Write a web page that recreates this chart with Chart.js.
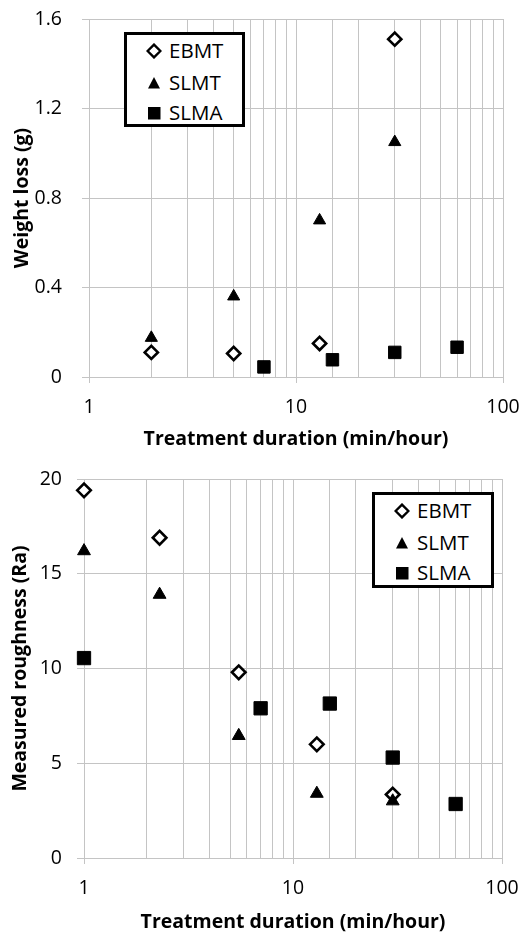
<!DOCTYPE html>
<html>
<head>
<meta charset="utf-8">
<script src="https://cdn.jsdelivr.net/npm/chart.js@4.4.1/dist/chart.umd.min.js"></script>
<style>
  body { margin: 0; background: #fff; font-family: "Open Sans", sans-serif; }
  #page { position: relative; width: 523px; height: 935px; overflow: hidden; }
  .wrap { position: absolute; left: 0; width: 523px; }
  .legend { position: absolute; border: 3px solid #000; background: #fff; box-sizing: border-box; }
  .legend .row { position: absolute; left: 0; width: 100%; height: 30px; }
  .legend svg { position: absolute; left: 19px; top: 8px; }
  .legend span { position: absolute; left: 42px; top: 0; line-height: 30px; font-size: 20.5px; color: #000; }
</style>
</head>
<body>
<div id="page">
  <div class="wrap" style="top:0;height:460px"><canvas id="weightChart" width="523" height="460"></canvas></div>
  <div class="wrap" style="top:460px;height:475px"><canvas id="roughChart" width="523" height="475"></canvas></div>
  <div class="legend" id="legendTop" style="left:124px;top:32px;width:121px;height:95px"></div>
  <div class="legend" id="legendBottom" style="left:372px;top:492px;width:122px;height:96px"></div>
</div>
<script>
// Series names
const seriesNames = ['EBMT', 'SLMT', 'SLMA'];

// Weight loss (g) vs treatment duration
const wlEbmtX = [2, 5, 13, 30];
const wlEbmtY = [0.11, 0.105, 0.15, 1.51];
const wlSlmtX = [2, 5, 13, 30];
const wlSlmtY = [0.175, 0.36, 0.70, 1.05];
const wlSlmaX = [7, 15, 30, 60];
const wlSlmaY = [0.045, 0.077, 0.11, 0.133];

// Measured roughness (Ra) vs treatment duration
const raEbmtX = [1, 2.3, 5.5, 13, 30];
const raEbmtY = [19.4, 16.9, 9.8, 6.0, 3.35];
const raSlmtX = [1, 2.3, 5.5, 13, 30];
const raSlmtY = [16.2, 13.9, 6.45, 3.4, 3.0];
const raSlmaX = [1, 7, 15, 30, 60];
const raSlmaY = [10.55, 7.9, 8.15, 5.3, 2.85];

// Axis ranges / ticks
const xMin = 1, xMax = 100;
const xTickLabels = [1, 10, 100];
const wlYMin = 0, wlYMax = 1.6, wlYStep = 0.4;
const raYMin = 0, raYMax = 20, raYStep = 5;

const xTitle = 'Treatment duration (min/hour)';
const wlTitle = 'Weight loss (g)';
const raTitle = 'Measured roughness (Ra)';

const gridColor = '#c4c4c4';
const FONT = '"Open Sans", sans-serif';

function pts(xs, ys) {
  return xs.map((x, i) => ({ x: x, y: ys[i] }));
}

function makeDatasets(ex, ey, tx, ty, sx, sy, big) {
  return [
    { label: seriesNames[0], data: pts(ex, ey), order: 1, clip: false,
      pointStyle: 'rectRot', pointRadius: big ? 6.8 : 6.6,
      backgroundColor: '#fff', borderColor: '#000', borderWidth: 2.6 },
    { label: seriesNames[1], data: pts(tx, ty), order: 0, clip: false,
      pointStyle: 'triangle', pointRadius: big ? 7.4 : 7,
      backgroundColor: '#000', borderColor: '#000', borderWidth: 1 },
    { label: seriesNames[2], data: pts(sx, sy), order: 2, clip: false,
      pointStyle: 'rect', pointRadius: big ? 9.4 : 8.8,
      backgroundColor: '#000', borderColor: '#000', borderWidth: 1 }
  ];
}

function makeOptions(cfg) {
  return {
    responsive: false,
    animation: false,
    events: [],
    layout: { padding: { top: cfg.top, right: cfg.right, left: 0, bottom: 0 } },
    plugins: { legend: { display: false }, tooltip: { enabled: false } },
    scales: {
      x: {
        type: 'logarithmic',
        min: xMin, max: xMax,
        border: { color: gridColor },
        grid: {
          color: gridColor, lineWidth: 1, tickLength: 6,
          tickColor: ctx => xTickLabels.includes(ctx.tick && ctx.tick.value) ? gridColor : 'rgba(0,0,0,0)'
        },
        ticks: {
          autoSkip: false, maxRotation: 0, padding: 13, color: '#000',
          font: { family: FONT, size: 19.5 },
          callback: v => xTickLabels.includes(v) ? String(v) : ''
        },
        title: {
          display: true, text: xTitle, color: '#000',
          font: { family: FONT, size: 19.5, weight: 'bold' },
          padding: { top: 0, bottom: cfg.xTitlePad }
        },
        afterFit: s => { s.height = cfg.xHeight; s.paddingLeft = 0; s.paddingRight = 0; }
      },
      y: {
        min: cfg.yMin, max: cfg.yMax,
        border: { display: false },
        grid: { color: gridColor, lineWidth: 1, tickLength: 7 },
        ticks: {
          stepSize: cfg.yStep, padding: cfg.yTickPad, color: '#000',
          font: { family: FONT, size: 19.5 }
        },
        title: {
          display: true, text: cfg.yTitle, color: '#000',
          font: { family: FONT, size: 19.5, weight: 'bold' },
          padding: { top: cfg.yTitlePad, bottom: 0 }
        },
        afterFit: s => { s.width = cfg.yWidth; s.paddingTop = 0; s.paddingBottom = 0; }
      }
    }
  };
}

new Chart(document.getElementById('weightChart'), {
  type: 'scatter',
  data: { datasets: makeDatasets(wlEbmtX, wlEbmtY, wlSlmtX, wlSlmtY, wlSlmaX, wlSlmaY, false) },
  options: makeOptions({
    top: 19, right: 20, xHeight: 83, yWidth: 89,
    yMin: wlYMin, yMax: wlYMax, yStep: wlYStep,
    yTitle: wlTitle, yTickPad: 20, yTitlePad: 11, xTitlePad: 9
  })
});

new Chart(document.getElementById('roughChart'), {
  type: 'scatter',
  data: { datasets: makeDatasets(raEbmtX, raEbmtY, raSlmtX, raSlmtY, raSlmaX, raSlmaY, true) },
  options: makeOptions({
    top: 19, right: 21, xHeight: 77, yWidth: 84,
    yMin: raYMin, yMax: raYMax, yStep: raYStep,
    yTitle: raTitle, yTickPad: 15, yTitlePad: 9, xTitlePad: 1
  })
});

// Boxed legends, Excel style
const markerSvg = {
  EBMT: '<svg width="16" height="16"><path d="M8 1.6 L14.4 8 L8 14.4 L1.6 8 Z" fill="#fff" stroke="#000" stroke-width="2.4"/></svg>',
  SLMT: '<svg width="16" height="16"><path d="M8 2 L14 13.5 L2 13.5 Z" fill="#000"/></svg>',
  SLMA: '<svg width="16" height="16"><rect x="2" y="2" width="12.5" height="12.5" fill="#000"/></svg>'
};
const legendRowTops = [0, 32, 62];

['legendTop', 'legendBottom'].forEach(id => {
  const box = document.getElementById(id);
  seriesNames.forEach((name, i) => {
    const row = document.createElement('div');
    row.className = 'row';
    row.style.top = legendRowTops[i] + 'px';
    row.innerHTML = markerSvg[name] + '<span>' + name + '</span>';
    box.appendChild(row);
  });
});
</script>
</body>
</html>
